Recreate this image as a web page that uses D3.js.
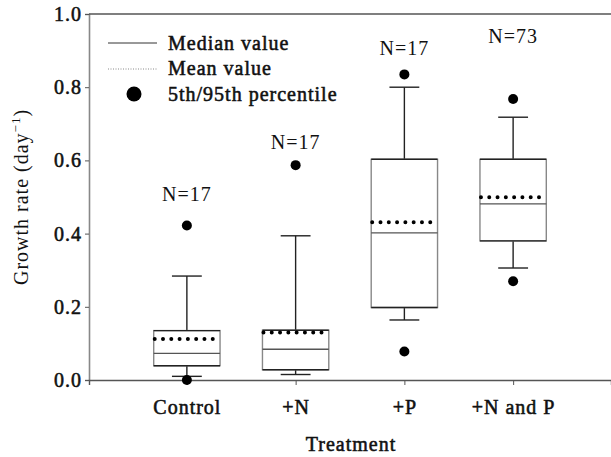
<!DOCTYPE html>
<html>
<head>
<meta charset="utf-8">
<script src="https://cdn.jsdelivr.net/npm/d3@7"></script>
<style>
  html, body { margin: 0; padding: 0; background: #fff; }
</style>
</head>
<body>
<svg id="chart" width="611" height="457"></svg>
<script>
// Growth rate by nutrient treatment: box = 25th–75th percentile,
// whiskers = 10th/90th, dots = 5th/95th percentile.
const categories = ["Control", "+N", "+P", "+N and P"];
const q1      = [0.039, 0.028, 0.198, 0.380];
const median  = [0.073, 0.084, 0.402, 0.481];
const q3      = [0.135, 0.136, 0.603, 0.603];
const mean    = [0.112, 0.130, 0.431, 0.499];
const whiskLo = [0.010, 0.015, 0.164, 0.306];
const whiskHi = [0.284, 0.394, 0.800, 0.718];
const p5      = [0.000, null,  0.078, 0.270];
const p95     = [0.422, 0.587, 0.835, 0.768];
const nLabels = ["N=17", "N=17", "N=17", "N=73"];
const nLabelAt = [0.49, 0.632, 0.888, 0.921];
const yTicks = [0, 0.2, 0.4, 0.6, 0.8, 1.0];

const rows = categories.map((c, i) => ({
  cat: c, q1: q1[i], median: median[i], q3: q3[i], mean: mean[i],
  lo: whiskLo[i], hi: whiskHi[i], p5: p5[i], p95: p95[i],
  label: nLabels[i], labelAt: nLabelAt[i]
}));

const svg = d3.select("#chart");
const plot = { left: 89, right: 611, top: 14, bottom: 380 };
const FS = 20;
const SERIF = "'Liberation Serif', 'Times New Roman', serif";

// shared text styling; heavy = faux semibold via a thin outline
function textStyle(sel, heavy) {
  sel.style("font-family", SERIF).style("font-size", FS + "px")
     .style("letter-spacing", "1px").style("fill", "#111");
  if (heavy) sel.style("stroke", "#111").style("stroke-width", "0.55px");
  else sel.style("stroke", "none");
  return sel;
}

const x = d3.scalePoint().domain(categories)
  .range([plot.left, plot.right]).padding(0.9);
const y = d3.scaleLinear().domain([0, 1]).range([plot.bottom, plot.top]);
const boxW = x.step() * 0.61;
const capW = boxW * 0.45;
const axisColor = "#555";

// Axes
const gy = svg.append("g").attr("transform", `translate(${plot.left},0)`)
  .call(d3.axisLeft(y).tickValues(yTicks).tickFormat(d3.format(".1f")).tickSizeOuter(0).tickSize(4).tickPadding(3));
gy.select(".domain").attr("stroke", "#888").attr("stroke-width", 1.6);
gy.selectAll(".tick line").attr("stroke", axisColor);
textStyle(gy.selectAll(".tick text"), true);

const gx = svg.append("g").attr("transform", `translate(0,${plot.bottom})`)
  .call(d3.axisBottom(x).tickSizeOuter(0).tickSize(5).tickPadding(15));
gx.select(".domain").attr("stroke", axisColor).attr("stroke-width", 1.4);
gx.selectAll(".tick line").attr("stroke", axisColor);
textStyle(gx.selectAll(".tick text"), true);

// top frame line
svg.append("line").attr("x1", plot.left).attr("x2", plot.right)
  .attr("y1", plot.top).attr("y2", plot.top)
  .attr("stroke", axisColor).attr("stroke-width", 1.4);

// Axis titles
textStyle(svg.append("text").attr("transform", "translate(28,197) rotate(-90)")
  .attr("text-anchor", "middle"), false)
  .html('Growth rate (day<tspan dy="-8" style="font-size:13px">−1</tspan><tspan dy="8">)</tspan>');
textStyle(svg.append("text").attr("x", (plot.left + plot.right) / 2 + 1).attr("y", 451)
  .attr("text-anchor", "middle"), true)
  .text("Treatment");

// Boxes
const g = svg.append("g").selectAll("g").data(rows).join("g");
const ink = "#222";
const side = "#888";

g.append("line").attr("x1", d => x(d.cat)).attr("x2", d => x(d.cat))
  .attr("y1", d => y(d.q3)).attr("y2", d => y(d.hi)).attr("stroke", ink).attr("stroke-width", 1.4);
g.append("line").attr("x1", d => x(d.cat)).attr("x2", d => x(d.cat))
  .attr("y1", d => y(d.q1)).attr("y2", d => y(d.lo)).attr("stroke", ink).attr("stroke-width", 1.4);
g.append("line").attr("x1", d => x(d.cat) - capW / 2).attr("x2", d => x(d.cat) + capW / 2)
  .attr("y1", d => y(d.hi)).attr("y2", d => y(d.hi)).attr("stroke", ink).attr("stroke-width", 1.4);
g.append("line").attr("x1", d => x(d.cat) - capW / 2).attr("x2", d => x(d.cat) + capW / 2)
  .attr("y1", d => y(d.lo)).attr("y2", d => y(d.lo)).attr("stroke", ink).attr("stroke-width", 1.4);

g.append("rect").attr("x", d => x(d.cat) - boxW / 2).attr("width", boxW)
  .attr("y", d => y(d.q3)).attr("height", d => y(d.q1) - y(d.q3))
  .attr("fill", "#fff").attr("stroke", side).attr("stroke-width", 1.4);
// darker quartile edges
g.append("line").attr("x1", d => x(d.cat) - boxW / 2).attr("x2", d => x(d.cat) + boxW / 2)
  .attr("y1", d => y(d.q3)).attr("y2", d => y(d.q3)).attr("stroke", ink).attr("stroke-width", 1.4);
g.append("line").attr("x1", d => x(d.cat) - boxW / 2).attr("x2", d => x(d.cat) + boxW / 2)
  .attr("y1", d => y(d.q1)).attr("y2", d => y(d.q1)).attr("stroke", ink).attr("stroke-width", 1.4);

g.append("line").attr("x1", d => x(d.cat) - boxW / 2).attr("x2", d => x(d.cat) + boxW / 2)
  .attr("y1", d => y(d.median)).attr("y2", d => y(d.median)).attr("stroke", "#555").attr("stroke-width", 1.3);

g.append("line").attr("x1", d => x(d.cat) - boxW / 2 + 1).attr("x2", d => x(d.cat) + boxW / 2)
  .attr("y1", d => y(d.mean)).attr("y2", d => y(d.mean))
  .attr("stroke", "#000").attr("stroke-width", 4).attr("stroke-linecap", "round")
  .attr("stroke-dasharray", `0,${boxW / 8}`);

g.filter(d => d.p95 != null).append("circle")
  .attr("cx", d => x(d.cat)).attr("cy", d => y(d.p95)).attr("r", 5).attr("fill", "#000");
g.filter(d => d.p5 != null).append("circle")
  .attr("cx", d => x(d.cat)).attr("cy", d => y(d.p5)).attr("r", 5).attr("fill", "#000");

textStyle(g.append("text").attr("x", d => x(d.cat)).attr("y", d => y(d.labelAt))
  .attr("text-anchor", "middle"), false).text(d => d.label);

// Legend
const lg = svg.append("g");
const lx = 108, lTextX = 168;
lg.append("line").attr("x1", lx).attr("x2", lx + 49).attr("y1", 43).attr("y2", 43)
  .attr("stroke", "#333").attr("stroke-width", 1);
textStyle(lg.append("text").attr("x", lTextX).attr("y", 49.5), true).text("Median value");
lg.append("line").attr("x1", lx).attr("x2", lx + 49).attr("y1", 69).attr("y2", 69)
  .attr("stroke", "#888").attr("stroke-width", 1).attr("stroke-dasharray", "1,1.5");
textStyle(lg.append("text").attr("x", lTextX).attr("y", 75), true).text("Mean value");
lg.append("circle").attr("cx", 134).attr("cy", 94).attr("r", 7.5).attr("fill", "#000");
textStyle(lg.append("text").attr("x", lTextX).attr("y", 100.5), true).text("5th/95th percentile");
</script>
</body>
</html>
